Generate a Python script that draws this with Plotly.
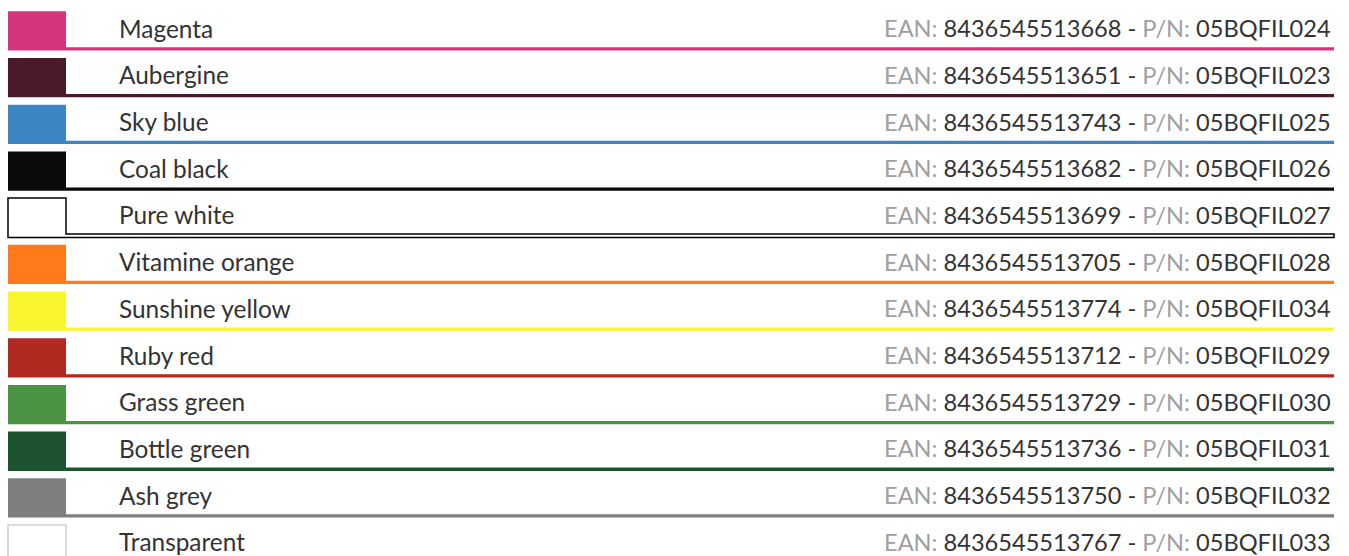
import plotly.graph_objects as go

names = ["Magenta", "Aubergine", "Sky blue", "Coal black", "Pure white", "Vitamine orange",
         "Sunshine yellow", "Ruby red", "Grass green", "Bottle green", "Ash grey", "Transparent"]
eans = ["8436545513668", "8436545513651", "8436545513743", "8436545513682", "8436545513699",
        "8436545513705", "8436545513774", "8436545513712", "8436545513729", "8436545513736",
        "8436545513750", "8436545513767"]
pns = ["05BQFIL024", "05BQFIL023", "05BQFIL025", "05BQFIL026", "05BQFIL027", "05BQFIL028",
       "05BQFIL034", "05BQFIL029", "05BQFIL030", "05BQFIL031", "05BQFIL032", "05BQFIL033"]
fills = ["#D5357A", "#4A1A2C", "#3C86C4", "#0A0A0A", "#FFFFFF", "#FF7A1A",
         "#F9F52E", "#B02A22", "#4A9444", "#1E5330", "#7F7F7D", "#FFFFFF"]
outlines = [None, None, None, None, "#000000", None, None, None, None, None, None, "#D0D0D0"]

W, H = 1349, 556
TOP0, PITCH, SW_H, UL = 11.3, 46.7, 39.3, 3.3
X0, X1, XR = 8, 66, 1334

fig = go.Figure()
fig.add_trace(go.Scatter(x=[0], y=[0], mode="markers", marker=dict(opacity=0), hoverinfo="skip",
                         showlegend=False))

shapes, annots = [], []
for i, (nm, ean, pn, fc, oc) in enumerate(zip(names, eans, pns, fills, outlines)):
    top = TOP0 + PITCH * i
    bot = top + SW_H
    ult = bot - UL
    if nm == "Transparent":
        path = f"M {X0},{top} L {X1},{top} L {X1},{bot} L {X0},{bot} Z"
    else:
        path = (f"M {X0},{top} L {X1},{top} L {X1},{ult} L {XR},{ult} L {XR},{bot} "
                f"L {X0},{bot} Z")
    shapes.append(dict(type="path", path=path, xref="x", yref="y", fillcolor=fc,
                       line=dict(color=oc if oc else fc, width=1.5 if oc else 0),
                       layer="above"))
    cy = top + 16.8
    annots.append(dict(x=116.5, y=cy, xref="x", yref="y", text=nm, showarrow=False,
                       xanchor="left", yanchor="middle",
                       font=dict(family="Lato", size=24.4, color="#333333")))
    annots.append(dict(x=1333, y=cy, xref="x", yref="y",
                       text=(f'<span style="color:#A0A0A0">EAN: </span>{ean} - '
                             f'<span style="color:#A0A0A0">P/N: </span>{pn}'),
                       showarrow=False, xanchor="right", yanchor="middle",
                       font=dict(family="Lato", size=23.6, color="#333333")))

fig.update_layout(
    width=W, height=H, margin=dict(l=0, r=0, t=0, b=0),
    paper_bgcolor="white", plot_bgcolor="white",
    xaxis=dict(range=[0, W], visible=False, fixedrange=True),
    yaxis=dict(range=[H, 0], visible=False, fixedrange=True),
    shapes=shapes, annotations=annots, showlegend=False,
)
fig.write_html("out.html", config={"displayModeBar": False},
               post_script="document.body.style.margin='0';document.body.style.overflow='hidden';")
